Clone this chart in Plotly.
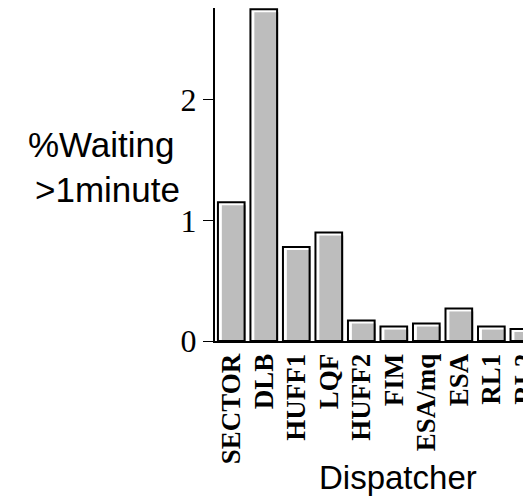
import plotly.graph_objects as go

dispatchers = ["SECTOR", "DLB", "HUFF1", "LQF", "HUFF2", "FIM", "ESA/mq", "ESA", "RL1", "RL2"]
pct_waiting = [1.15, 2.75, 0.78, 0.90, 0.17, 0.12, 0.145, 0.27, 0.12, 0.10]
y_ticks = [0, 1, 2]

shadow = [v - 0.025 for v in pct_waiting]

fig = go.Figure()
fig.add_trace(go.Bar(
    x=dispatchers, y=shadow, width=0.74, offset=-0.29,
    marker=dict(color="#bdbdbd", line=dict(width=0)),
    hoverinfo="skip", showlegend=False,
))
fig.add_trace(go.Bar(
    x=dispatchers, y=pct_waiting, width=0.82, offset=-0.41,
    marker=dict(color="rgba(0,0,0,0)", line=dict(color="black", width=2)),
    showlegend=False,
))

# page body has an 8px default margin, so the figure is sized to fit the window
fig.update_layout(
    width=523, height=494,
    margin=dict(l=207, r=0, t=0, b=161),
    barmode="overlay",
    plot_bgcolor="white", paper_bgcolor="white",
    xaxis=dict(
        type="category", range=[-0.5, 9.22], automargin=False,
        tickmode="array", tickvals=dispatchers, ticktext=dispatchers,
        showline=True, linecolor="black", linewidth=2,
        ticks="", tickangle=-90,
        tickfont=dict(family="Liberation Serif", size=27,
                      color="black", weight="bold"),
        showgrid=False, zeroline=False,
    ),
    yaxis=dict(
        range=[0, 2.76], automargin=False,
        tickvals=y_ticks, ticktext=[str(t) for t in y_ticks],
        showline=True, linecolor="black", linewidth=2,
        ticks="outside", ticklen=10, tickwidth=1, tickcolor="black",
        tickfont=dict(family="Liberation Serif", size=32, color="black"),
        showgrid=False, zeroline=False,
    ),
    annotations=[
        dict(text="%Waiting", xref="paper", yref="paper", x=-0.36, y=0.59,
             xanchor="center", yanchor="middle", showarrow=False,
             font=dict(family="Liberation Sans", size=35, color="black")),
        dict(text=">1minute", xref="paper", yref="paper", x=-0.34, y=0.455,
             xanchor="center", yanchor="middle", showarrow=False,
             font=dict(family="Liberation Sans", size=35, color="black")),
        dict(text="Dispatcher", xref="paper", yref="paper", x=0.579, y=-0.41,
             xanchor="center", yanchor="middle", showarrow=False,
             font=dict(family="Liberation Sans", size=33, color="black")),
    ],
)

fig.write_html("out.html")
